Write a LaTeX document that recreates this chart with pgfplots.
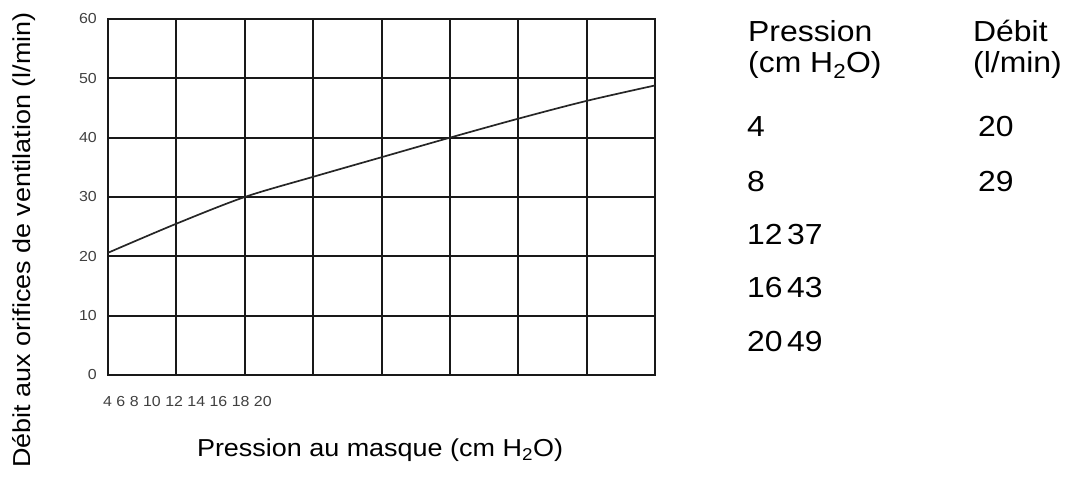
\documentclass[border=0pt]{standalone}
\usepackage{fontspec}
\setmainfont[FakeStretch=1.1]{Liberation Sans}
\usepackage{pgfplots}
\pgfplotsset{compat=1.18}
\begin{document}
\begin{tikzpicture}
\useasboundingbox (-108pt,-103pt) rectangle (968pt,375pt);
\begin{axis}[
  at={(0pt,0pt)}, anchor=south west,
  width=547pt, height=356pt, scale only axis,
  xmin=4, xmax=20, ymin=0, ymax=60,
  xtick={4,6,...,20}, ytick={0,10,...,60},
  xticklabels={},
  major tick length=0pt,
  grid=major,
  grid style={black!90, line width=2pt},
  axis line style={black!90, line width=2pt},
  /pgf/number format/assume math mode=true,
  yticklabel style={font=\fontsize{14.5}{16}\selectfont, text=black!75, inner sep=0pt, anchor=east, xshift=-11pt},
]
\addplot[black!85, line width=1.7pt, smooth] coordinates {
  (4,20.6) (6,25.5) (8,30) (10,33.4) (12,36.7) (14,40) (16,43.2) (18,46.2) (20,48.8)
};
\end{axis}
% crowded x tick labels as in the reference
\node[anchor=base west, inner sep=0pt, font=\fontsize{14.5}{16}\selectfont, text=black!75] at (-5pt,-32pt) {4 6 8 10 12 14 16 18 20};
% axis titles
\node[anchor=base, inner sep=0pt, font=\fontsize{24.5}{28}\selectfont] at (272pt,-82pt) {Pression au masque (cm H\textsubscript{2}O)};
\node[rotate=90, anchor=center, inner sep=0pt, font=\fontsize{24.5}{28}\selectfont] at (-84pt,135pt) {Débit aux orifices de ventilation (l/min)};
% table
\begin{scope}[every node/.style={anchor=base west, inner sep=0pt, font=\fontsize{29}{33}\selectfont}]
\node at (640pt,333pt) {Pression};
\node at (640pt,302pt) {(cm H\textsubscript{2}O)};
\node at (865pt,333pt) {Débit};
\node at (865pt,302pt) {(l/min)};
\node at (639pt,238pt) {4};
\node at (639pt,183pt) {8};
\node at (639pt,130pt) {12\kern0.15em 37};
\node at (639pt,77pt) {16\kern0.15em 43};
\node at (639pt,23pt) {20\kern0.15em 49};
\node at (870pt,238pt) {20};
\node at (870pt,183pt) {29};
\end{scope}
\end{tikzpicture}
\end{document}
